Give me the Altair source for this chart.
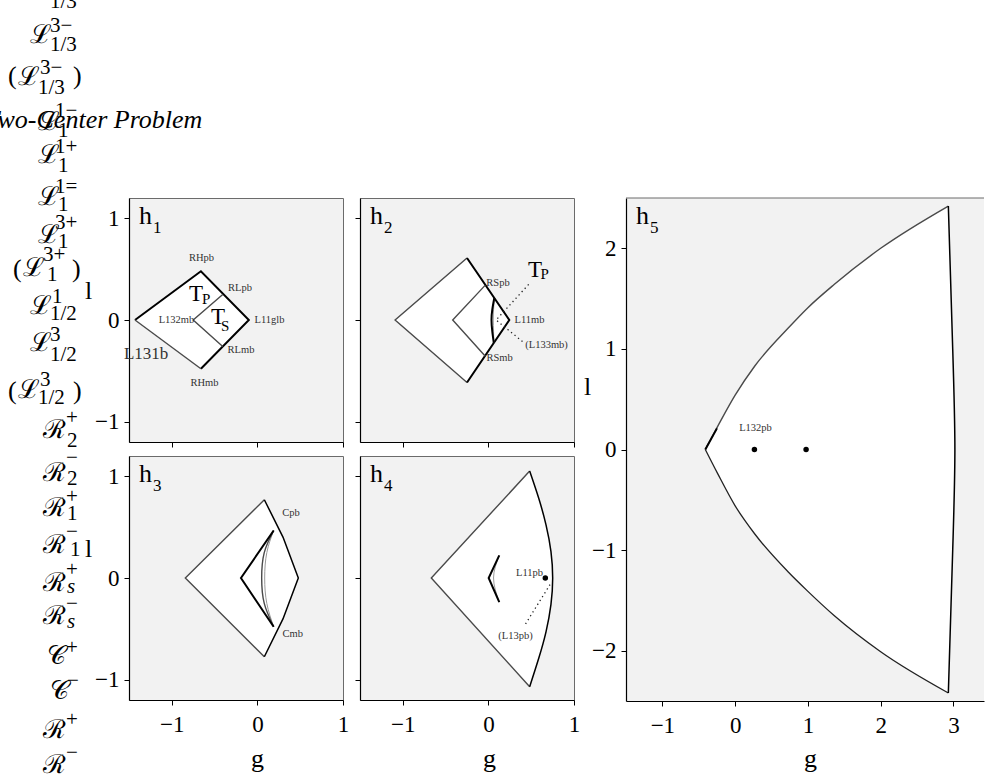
import altair as alt
import pandas as pd

SERIF = "Liberation Serif"
MATH = "DejaVu Serif"
BG = "#f2f2f2"
FRAME = "#6b6b6b"
TAG_INK = "#333333"

ONE = pd.DataFrame({"k": [0]})

STYLES = {
    "bold": {"color": "black", "strokeWidth": 2.0},
    "edge": {"color": "black", "strokeWidth": 1.5},
    "dark": {"color": "#222222", "strokeWidth": 1.3},
    "grey": {"color": "#4a4a4a", "strokeWidth": 1.4},
    "thin": {"color": "#8c8c8c", "strokeWidth": 0.9},
    "dot": {"color": "#222222", "strokeWidth": 1.3, "strokeDash": [1.3, 3.2]},
}

# ---------------------------------------------------------------- h1
h1_fill_x = [-1.43, -0.66, -0.10]
h1_fill_top = [0.0, 0.48, 0.0]
h1_fill_bot = [0.0, -0.48, 0.0]
h1_paths = [
    ("bold", "linear", [(-1.43, 0.0), (-0.66, 0.48), (-0.10, 0.0), (-0.66, -0.48)]),
    ("grey", "linear", [(-1.43, 0.0), (-0.66, -0.48)]),
    ("grey", "linear", [(-0.405, 0.25), (-0.75, 0.0), (-0.405, -0.26)]),
]
h1_tags = [("RHpb", -0.653, 0.611, 10.5), ("RLpb", -0.203, 0.317, 10.5),
           ("L132mb", -0.945, 0.0, 10.5), ("L11glb", 0.141, 0.0, 10.5),
           ("RLmb", -0.192, -0.297, 10.5), ("RHmb", -0.618, -0.624, 10.5),
           ("L131b", -1.30, -0.336, 17)]
h1_regions = [("T", -0.80, 0.186, "P", -0.647, 0.157),
              ("T", -0.542, -0.04, "S", -0.425, -0.108)]

# ---------------------------------------------------------------- h2
h2_fill_x = [-1.09, -0.25, 0.244]
h2_fill_top = [0.0, 0.61, 0.0]
h2_fill_bot = [0.0, -0.615, 0.0]
h2_paths = [
    ("grey", "linear", [(-0.25, 0.61), (-1.09, 0.0), (-0.25, -0.615)]),
    ("bold", "linear", [(-0.25, 0.61), (0.244, 0.0), (-0.25, -0.615)]),
    ("grey", "linear", [(-0.036, 0.343), (-0.417, 0.0), (-0.036, -0.356)]),
    ("thin", "natural", [(0.069, 0.216), (0.06, 0.1), (0.056, 0.0), (0.06, -0.11), (0.063, -0.225)]),
    ("bold", "natural", [(0.069, 0.216), (0.045, 0.1), (0.036, 0.0), (0.045, -0.11), (0.063, -0.225)]),
    ("dot", "linear", [(0.47, 0.35), (0.09, 0.0), (0.41, -0.22)]),
]
h2_tags = [("RSpb", 0.112, 0.36, 10.5), ("L11mb", 0.48, 0.0, 10.5),
           ("(L133mb)", 0.679, -0.245, 10.5), ("RSmb", 0.13, -0.37, 10.5)]
h2_regions = [("T", 0.463, 0.42, "P", 0.61, 0.40)]

# ---------------------------------------------------------------- h3
h3_fill_x = [-0.842, 0.081, 0.30, 0.478]
h3_fill_top = [0.0, 0.77, 0.40, 0.0]
h3_fill_bot = [0.0, -0.775, -0.40, 0.0]
h3_paths = [
    ("grey", "linear", [(0.081, 0.77), (-0.842, 0.0), (0.081, -0.775)]),
    ("edge", "linear", [(0.081, 0.77), (0.30, 0.40), (0.478, 0.0), (0.30, -0.40), (0.081, -0.775)]),
    ("thin", "natural", [(0.19, 0.467), (0.11, 0.25), (0.085, 0.0), (0.11, -0.25), (0.19, -0.48)]),
    ("grey", "natural", [(0.19, 0.467), (0.08, 0.25), (0.05, 0.0), (0.08, -0.25), (0.19, -0.48)]),
    ("bold", "linear", [(0.19, 0.467), (-0.192, 0.0), (0.19, -0.48)]),
]
h3_tags = [("Cpb", 0.393, 0.64, 10.5), ("Cmb", 0.412, -0.546, 10.5)]

# ---------------------------------------------------------------- h4
h4_fill_x = [-0.667, 0.482, 0.588, 0.673, 0.731, 0.751]
h4_fill_top = [0.0, 1.052, 0.784, 0.523, 0.26, 0.0]
h4_fill_bot = [0.0, -1.07, -0.79, -0.53, -0.26, 0.0]
h4_paths = [
    ("grey", "linear", [(0.482, 1.052), (-0.667, 0.0), (0.482, -1.07)]),
    ("edge", "natural", [(0.482, 1.052), (0.588, 0.784), (0.673, 0.523), (0.731, 0.26), (0.751, 0.0),
                         (0.731, -0.26), (0.673, -0.53), (0.588, -0.79), (0.482, -1.07)]),
    ("thin", "natural", [(0.127, 0.222), (0.06, 0.0), (0.127, -0.238)]),
    ("bold", "linear", [(0.127, 0.222), (0.003, 0.0), (0.127, -0.238)]),
    ("dot", "linear", [(0.72, -0.065), (0.43, -0.457)]),
]
h4_dots = [(0.665, 0.0)]
h4_tags = [("L11pb", 0.48, 0.052, 10.5), ("(L13pb)", 0.317, -0.569, 10.5)]

# ---------------------------------------------------------------- h5
h5_curve_x = [-0.41, -0.24, 0.00, 0.27, 0.72, 1.00, 1.36, 2.00, 2.93]
h5_curve_top = [0.0, 0.23, 0.54, 0.83, 1.20, 1.41, 1.64, 2.00, 2.42]
h5_curve_bot = [0.0, -0.24, -0.56, -0.84, -1.21, -1.41, -1.65, -2.01, -2.42]
h5_cap_x = [2.00, 2.93, 2.99, 3.02]
h5_cap_top = [2.00, 2.42, 1.00, 0.0]
h5_cap_bot = [-2.01, -2.42, -1.00, 0.0]
h5_paths = [
    ("grey", "monotone", list(zip(h5_curve_x, h5_curve_top))),
    ("dark", "monotone", list(zip(h5_curve_x, h5_curve_bot))),
    ("bold", "linear", [(-0.41, 0.0), (-0.25, 0.21)]),
    ("edge", "natural", [(2.93, 2.42), (2.99, 1.0), (3.02, 0.0), (2.99, -1.0), (2.93, -2.42)]),
]
h5_dots = [(0.265, 0.0), (0.975, 0.0)]
h5_tags = [("L132pb", 0.28, 0.21, 10.5)]

# ---------------------------------------------------------------- side notation
SUP = 21  # script size of indices
LEFT_GLYPHS = [  # (text, face, font size, left x, baseline y)
    ("1/3", "serif", SUP, 50, 8),
    ("ℒ", "math", 26, 30, 43), ("3−", "serif", SUP, 50, 32), ("1/3", "serif", SUP, 50, 51),
    ("(", "serif", 26, 8, 84), ("ℒ", "math", 26, 18, 85), ("3−", "serif", SUP, 40, 74),
    ("1/3", "serif", SUP, 38, 94), (")", "serif", 26, 73, 84),
    ("Two-Center Problem", "italic", 26, -15, 128),
    ("ℒ", "math", 26, 38, 130), ("1−", "serif", SUP, 55, 117), ("1", "serif", SUP, 58, 137),
    ("ℒ", "math", 26, 38, 163), ("1+", "serif", SUP, 55, 153), ("1", "serif", SUP, 58, 172),
    ("ℒ", "math", 26, 38, 204), ("1=", "serif", SUP, 55, 192), ("1", "serif", SUP, 58, 210),
    ("ℒ", "math", 26, 38, 242), ("3+", "serif", SUP, 55, 228), ("1", "serif", SUP, 58, 247),
    ("(", "serif", 26, 13, 276), ("ℒ", "math", 26, 23, 275), ("3+", "serif", SUP, 43, 260),
    ("1", "serif", SUP, 47, 280), (")", "serif", 26, 72, 276),
    ("ℒ", "math", 26, 30, 313), ("1", "serif", SUP, 52, 302), ("1/2", "serif", SUP, 50, 319),
    ("ℒ", "math", 26, 30, 350), ("3", "serif", SUP, 50, 340), ("1/2", "serif", SUP, 50, 360),
    ("(", "serif", 26, 8, 398), ("ℒ", "math", 26, 18, 397), ("3", "serif", SUP, 40, 385),
    ("1/2", "serif", SUP, 38, 403), (")", "serif", 26, 73, 398),
    ("ℛ", "math", 26, 43, 437), ("+", "serif", SUP, 66, 423), ("2", "serif", SUP, 67, 446),
    ("ℛ", "math", 26, 43, 480), ("−", "serif", SUP, 66, 463), ("2", "serif", SUP, 67, 484),
    ("ℛ", "math", 26, 43, 515), ("+", "serif", SUP, 66, 502), ("1", "serif", SUP, 67, 519),
    ("ℛ", "math", 26, 43, 552), ("−", "serif", SUP, 66, 537), ("1", "serif", SUP, 70, 555),
    ("ℛ", "math", 26, 43, 590), ("+", "serif", SUP, 66, 575), ("s", "italic", SUP, 67, 592),
    ("ℛ", "math", 26, 43, 623), ("−", "serif", SUP, 66, 609), ("s", "italic", SUP, 67, 627),
    ("𝒞", "math", 26, 47, 663), ("+", "serif", SUP, 66, 653),
    ("𝒞", "math", 26, 50, 698), ("−", "serif", SUP, 67, 686),
    ("ℛ", "math", 26, 43, 737), ("+", "serif", SUP, 66, 725),
    ("ℛ", "math", 26, 43, 772), ("−", "serif", SUP, 66, 758),
]
STRIP_H = 172   # height of the strip above the panel rows
ROW_TOP = 197   # top edge of the first panel row
LIFT = ROW_TOP - STRIP_H  # room kept above the first panel row


def axis(values, labels, pad, title=None):
    opts = dict(values=values, labels=labels, format="d", grid=False, ticks=True, tickSize=5,
                tickWidth=1, tickColor="black", domainColor="black", domainWidth=1.2,
                labelFont=SERIF, labelFontSize=23, labelColor="black", labelPadding=pad,
                labelFlush=False, labelOverlap=False)
    if title is None:
        opts["title"] = None
    else:
        text, tx, ty = title
        opts.update(title=text, titleFont=SERIF, titleFontSize=26, titleFontWeight="normal",
                    titleColor="black", titleAngle=0, titleX=tx, titleY=ty,
                    titleAlign="center", titleBaseline="alphabetic")
    return alt.Axis(**opts)


def panel(p):
    w, h = p["size"]
    xs = alt.Scale(domain=p["xdom"], nice=False, zero=False)
    ys = alt.Scale(domain=p["ydom"], nice=False, zero=False)
    ax = axis(p["xticks"], p["xlabels"], 8, p.get("xtitle"))
    ay = axis(p["yticks"], p["ylabels"], 5, p.get("ytitle"))

    def X(f):
        return alt.X(f"{f}:Q", scale=xs, axis=ax)

    def Y(f):
        return alt.Y(f"{f}:Q", scale=ys, axis=ay)

    layers = []
    # white interior of each region
    for interp, fx, ft, fb in p["fills"]:
        df = pd.DataFrame({"x": fx, "top": ft, "bot": fb})
        layers.append(alt.Chart(df).mark_area(color="white", opacity=1, interpolate=interp)
                      .encode(x=X("x"), y=Y("top"), y2=alt.Y2("bot")))
    # boundary curves
    for style, interp, path in p["paths"]:
        df = pd.DataFrame({"x": [q[0] for q in path], "y": [q[1] for q in path],
                           "i": list(range(len(path)))})
        layers.append(alt.Chart(df).mark_line(interpolate=interp, **STYLES[style])
                      .encode(x=X("x"), y=Y("y"), order="i:Q"))
    if p.get("dots"):
        df = pd.DataFrame({"x": [d[0] for d in p["dots"]], "y": [d[1] for d in p["dots"]]})
        layers.append(alt.Chart(df).mark_point(filled=True, color="black", size=30, opacity=1)
                      .encode(x=X("x"), y=Y("y")))
    if p.get("tags"):
        df = pd.DataFrame({"t": [q[0] for q in p["tags"]], "x": [q[1] for q in p["tags"]],
                           "y": [q[2] for q in p["tags"]], "fs": [q[3] for q in p["tags"]]})
        layers.append(alt.Chart(df).mark_text(align="center", baseline="middle", font=SERIF,
                                              color=TAG_INK)
                      .encode(x=X("x"), y=Y("y"), text="t:N", size=alt.Size("fs:Q", scale=None)))
    if p.get("regions"):
        regs = p["regions"]
        big = pd.DataFrame({"t": [r[0] for r in regs], "x": [r[1] for r in regs], "y": [r[2] for r in regs]})
        sub = pd.DataFrame({"t": [r[3] for r in regs], "x": [r[4] for r in regs], "y": [r[5] for r in regs]})
        layers.append(alt.Chart(big).mark_text(align="left", baseline="alphabetic", font=SERIF,
                                               fontSize=23, color="black")
                      .encode(x=X("x"), y=Y("y"), text="t:N"))
        layers.append(alt.Chart(sub).mark_text(align="left", baseline="alphabetic", font=SERIF,
                                               fontSize=15, color="black")
                      .encode(x=X("x"), y=Y("y"), text="t:N"))
    # panel name h with its index
    layers.append(alt.Chart(pd.DataFrame({"t": ["h"]}))
                  .mark_text(x=10, y=26, align="left", baseline="alphabetic", font=SERIF,
                             fontSize=26, color="black").encode(text="t:N"))
    layers.append(alt.Chart(pd.DataFrame({"t": [p["index"]]}))
                  .mark_text(x=24, y=35, align="left", baseline="alphabetic", font=SERIF,
                             fontSize=17, color="black").encode(text="t:N"))
    if p.get("top_rule"):
        layers.append(alt.Chart(ONE).mark_rule(color=FRAME, strokeWidth=1)
                      .encode(x=alt.value(0), x2=alt.value(w), y=alt.value(0)))
    # invisible rule that fixes the footprint of the panel in the layout
    l, t, r, b = p["extent"]
    layers.append(alt.Chart(ONE).mark_rule(opacity=0, strokeOpacity=0)
                  .encode(x=alt.value(l), x2=alt.value(r), y=alt.value(t), y2=alt.value(b)))
    if p.get("top_rule"):
        view = alt.ViewBackground(fill=BG, stroke="transparent", strokeWidth=0)
    else:
        view = alt.ViewBackground(fill=BG, stroke=FRAME, strokeWidth=1)
    return alt.layer(*layers).properties(width=w, height=h, view=view)


SMALL = (214, 244)
common = dict(size=SMALL, xdom=[-1.5, 1.0], ydom=[-1.2, 1.2], xticks=[-1, 0, 1], yticks=[-1, 0, 1])

h1 = panel(dict(common, index="1", xlabels=False, ylabels=True, ytitle=("l", -41, 100),
                fills=[("linear", h1_fill_x, h1_fill_top, h1_fill_bot)], paths=h1_paths,
                tags=h1_tags, regions=h1_regions, extent=(-46, -LIFT, 214 + 7, 244 + 8)))
h2 = panel(dict(common, index="2", xlabels=False, ylabels=False,
                fills=[("linear", h2_fill_x, h2_fill_top, h2_fill_bot)], paths=h2_paths,
                tags=h2_tags, regions=h2_regions, extent=(-8, -LIFT, 214 + 7, 244 + 8)))
h3 = panel(dict(common, index="3", xlabels=True, ylabels=True, ytitle=("l", -41, 100),
                xtitle=("g", 128, 66),
                fills=[("linear", h3_fill_x, h3_fill_top, h3_fill_bot)], paths=h3_paths,
                tags=h3_tags, extent=(-46, -2, 214 + 7, 244)))
h4 = panel(dict(common, index="4", xlabels=True, ylabels=False, xtitle=("g", 129, 66),
                fills=[("linear", h4_fill_x, h4_fill_top, h4_fill_bot)], paths=h4_paths,
                dots=h4_dots, tags=h4_tags, extent=(-8, -2, 214 + 7, 244)))
h5 = panel(dict(index="5", size=(358, 503), xdom=[-1.5, 3.42], ydom=[-2.5, 2.5],
                xticks=[-1, 0, 1, 2, 3], yticks=[-2, -1, 0, 1, 2], xlabels=True, ylabels=True,
                xtitle=("g", 184, 65), ytitle=("l", -39, 196),
                fills=[("monotone", h5_curve_x, h5_curve_top, h5_curve_bot),
                       ("linear", h5_cap_x, h5_cap_top, h5_cap_bot)],
                paths=h5_paths, dots=h5_dots, tags=h5_tags, top_rule=True,
                extent=(-44, -LIFT, 358, 503)))


def text_block(rows, width, height, y0, clip):
    layers = []
    for face, font, style in [("serif", SERIF, "normal"), ("math", MATH, "normal"),
                              ("italic", SERIF, "italic")]:
        sub = [r for r in rows if r[1] == face]
        if not sub:
            continue
        df = pd.DataFrame({"t": [r[0] for r in sub], "fs": [r[2] for r in sub],
                           "px": [r[3] for r in sub], "py": [r[4] - y0 for r in sub]})
        layers.append(alt.Chart(df).mark_text(align="left", baseline="alphabetic", font=font,
                                              fontStyle=style, color="black", clip=clip)
                      .encode(x=alt.X("px:Q", scale=None, axis=None),
                              y=alt.Y("py:Q", scale=None, axis=None),
                              text="t:N", size=alt.Size("fs:Q", scale=None)))
    return alt.layer(*layers).properties(
        width=width, height=height,
        view=alt.ViewBackground(stroke="transparent", strokeWidth=0))


top_strip = text_block([g for g in LEFT_GLYPHS if g[4] <= STRIP_H], 300, STRIP_H, 0, True)
side_column = text_block([g for g in LEFT_GLYPHS if g[4] > STRIP_H], 82, 780 - ROW_TOP - 2,
                         ROW_TOP, False)

grid = alt.vconcat(alt.hconcat(h1, h2, spacing=0), alt.hconcat(h3, h4, spacing=0), spacing=2)
main_row = alt.hconcat(side_column, grid, h5, spacing=0)

chart = alt.vconcat(top_strip, main_row, spacing=0).properties(padding=0, background="white")

chart.save("out.html", embed_options={"renderer": "svg", "actions": False})
